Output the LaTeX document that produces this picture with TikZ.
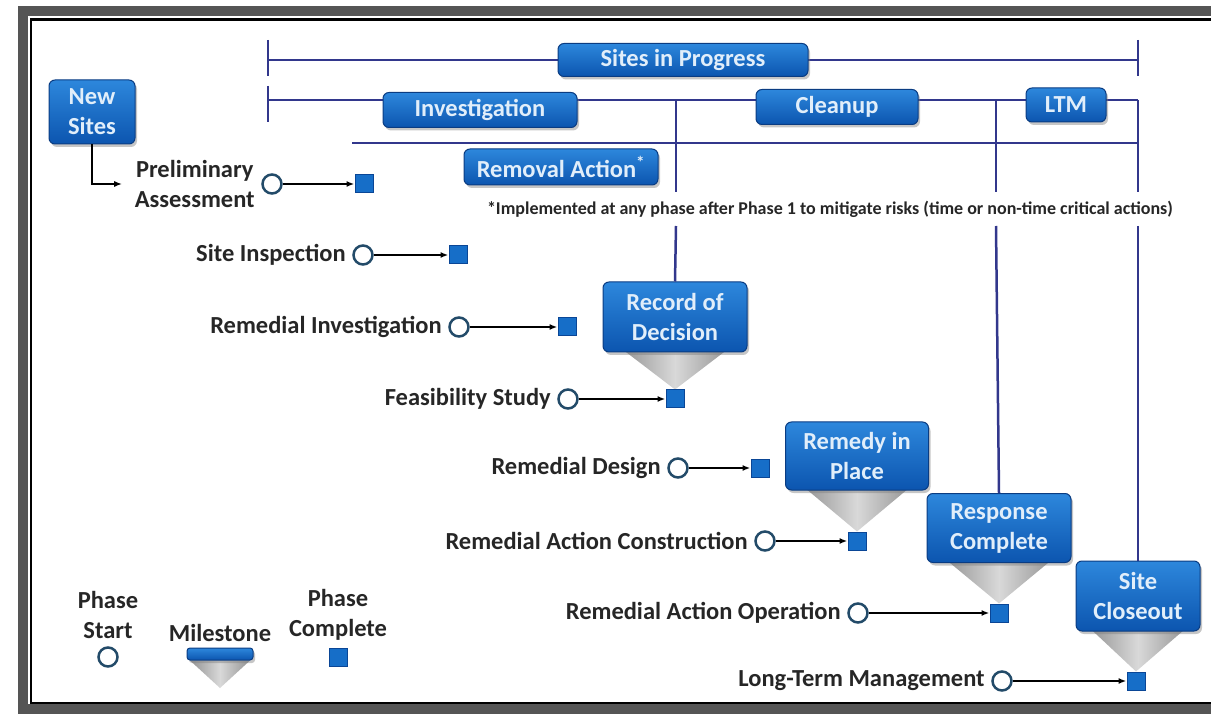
\documentclass[tikz,border=0pt]{standalone}
\usepackage{fontspec}
\setmainfont{Carlito}
\usetikzlibrary{positioning,shadows,backgrounds,arrows.meta}
\definecolor{boxtop}{RGB}{45,135,220}
\definecolor{boxbot}{RGB}{12,85,175}
\definecolor{boxedge}{RGB}{10,60,130}
\definecolor{boxtext}{RGB}{225,238,250}
\definecolor{barline}{RGB}{50,55,140}
\definecolor{ringc}{RGB}{35,75,105}
\definecolor{sqfill}{RGB}{22,110,200}
\definecolor{sqedge}{RGB}{10,70,150}
\definecolor{framec}{RGB}{85,85,85}

\begin{document}
\begin{tikzpicture}[x=1pt,y=-1pt,
  bbox/.style={rectangle, rounded corners=6pt, top color=boxtop, bottom color=boxbot,
    draw=boxedge, line width=1pt, text=boxtext, align=center, inner sep=0pt,
    font=\fontsize{24.5}{30}\selectfont\bfseries,
    drop shadow={shadow xshift=2pt, shadow yshift=-3pt, opacity=0.45}},
  lbl/.style={align=center, font=\fontsize{24.5}{30}\selectfont\bfseries, text=black!85},
  bar/.style={draw=barline, line width=2.5pt},
  pstart/.style={circle, draw=ringc, line width=2.5pt, fill=white, minimum size=19pt, inner sep=0pt},
  pdone/.style={rectangle, draw=sqedge, line width=1pt, fill=sqfill, minimum size=18pt, inner sep=0pt},
  arr/.style={-{Latex[length=8pt,width=6pt]}, line width=2pt, black},
  tri/.style={left color=gray!85, right color=gray!85, middle color=gray!30}]
\useasboundingbox (0,0) rectangle (1211,719);

% frame
\draw[framec, line width=10pt] (23,11) rectangle (1240,709);
\draw[black, line width=2.5pt] (31,19.5) rectangle (1240,703);

% phase bars
\draw[bar] (268,40) -- (268,76);
\draw[bar] (1138,40) -- (1138,76);
\draw[bar] (268,60) -- (1138,60);
\draw[bar] (268,86) -- (268,122);
\draw[bar] (268,100) -- (1138,100);
\draw[bar] (352,143) -- (1138,143);

\node[bbox, minimum width=250pt, minimum height=33pt] (sip) at (683,60) {Sites in Progress};
\node[bbox, minimum width=194pt, minimum height=35pt] (inv) at (480,110) {Investigation};
\node[bbox, minimum width=162pt, minimum height=35pt] (cln) at (837,107) {Cleanup};
\node[bbox, minimum width=80pt, minimum height=34pt] (ltm) at (1066,105) {LTM};
\node[bbox, minimum width=194pt, minimum height=36pt] (rem) at (561,167) {Removal Action\textsuperscript{*}};
\node[bbox, minimum width=86pt, minimum height=64pt] (new) at (92,112) {New\\Sites};

\node[font=\fontsize{18}{20}\selectfont\bfseries, text=black!85] (note) at (830,209)
  {*Implemented at any phase after Phase 1 to mitigate risks (time or non-time critical actions)};

% phases
\node[pstart] (ps1) at (272,184) {};
\node[pdone] (pc1) at (364,184) {};
\node[lbl, left=3pt of ps1] (pa) {Preliminary\\Assessment};
\draw[arr] (ps1) -- (pc1);
\node[pstart] (ps2) at (363,255) {};
\node[pdone] (pc2) at (458,255) {};
\node[lbl, left=3pt of ps2] (si) {Site Inspection};
\draw[arr] (ps2) -- (pc2);
\node[pstart] (ps3) at (459,327) {};
\node[pdone] (pc3) at (567,327) {};
\node[lbl, left=3pt of ps3] (ri) {Remedial Investigation};
\draw[arr] (ps3) -- (pc3);
\node[pstart] (ps4) at (568,399) {};
\node[pdone] (pc4) at (675,399) {};
\node[lbl, left=3pt of ps4] (fs) {Feasibility Study};
\draw[arr] (ps4) -- (pc4);
\node[pstart] (ps5) at (678,468) {};
\node[pdone] (pc5) at (760,468) {};
\node[lbl, left=3pt of ps5] (rd) {Remedial Design};
\draw[arr] (ps5) -- (pc5);
\node[pstart] (ps6) at (765,541) {};
\node[pdone] (pc6) at (857,541) {};
\node[lbl, left=3pt of ps6] (rac) {Remedial Action Construction};
\draw[arr] (ps6) -- (pc6);
\node[pstart] (ps7) at (858,613) {};
\node[pdone] (pc7) at (999,613) {};
\node[lbl, left=3pt of ps7] (rao) {Remedial Action Operation};
\draw[arr] (ps7) -- (pc7);
\node[pstart] (ps8) at (1002,681) {};
\node[pdone] (pc8) at (1136,681) {};
\node[lbl, left=3pt of ps8] (ltmg) {Long-Term Management};
\draw[arr] (ps8) -- (pc8);

\draw[arr] (new.south) |- ([xshift=-9pt]pa.west);

% milestones
\node[bbox, minimum width=144pt, minimum height=70pt] (rod) at (675,317) {Record of\\Decision};
\node[bbox, minimum width=143pt, minimum height=68pt] (rip) at (857,456) {Remedy in\\Place};
\node[bbox, minimum width=144pt, minimum height=69pt] (rc) at (999,528) {Response\\Complete};
\node[bbox, minimum width=124pt, minimum height=70pt] (sc) at (1138,596) {Site\\Closeout};

\begin{scope}[on background layer]
\shade[tri] ([xshift=-55pt,yshift=5pt]rod.south) -- ([xshift=55pt,yshift=5pt]rod.south) -- (pc4.north) -- cycle;
\shade[tri] ([xshift=-55pt,yshift=5pt]rip.south) -- ([xshift=55pt,yshift=5pt]rip.south) -- (pc6.north) -- cycle;
\shade[tri] ([xshift=-55pt,yshift=5pt]rc.south) -- ([xshift=55pt,yshift=5pt]rc.south) -- (pc7.north) -- cycle;
\shade[tri] ([xshift=-50pt,yshift=5pt]sc.south) -- ([xshift=50pt,yshift=5pt]sc.south) -- (pc8.north) -- cycle;
\end{scope}

% risers
\draw[bar] (676,100) -- (676,192);
\draw[bar] (676,226) -- (rod.north);
\draw[bar] (996,100) -- (996,192);
\draw[bar] (996,226) -- (rc.north);
\draw[bar] (1138,100) -- (1138,192);
\draw[bar] (1138,226) -- (sc.north);

% legend
\node[lbl] (lgs) at (108,615) {Phase\\Start};
\node[pstart] (lgc) at (108,657) {};
\node[lbl] (lgm) at (220,633) {Milestone};
\node[bbox, minimum width=66pt, minimum height=12pt, rounded corners=3pt] (lgb) at (220,654) {};
\coordinate (lgt) at (220,688);
\begin{scope}[on background layer]
\shade[tri] ([xshift=-30pt]lgb.south) -- ([xshift=30pt]lgb.south) -- (lgt) -- cycle;
\end{scope}
\node[lbl] (lgp) at (338,615) {Phase\\Complete};
\node[pdone] (lgq) at (338,657) {};
\end{tikzpicture}
\end{document}
